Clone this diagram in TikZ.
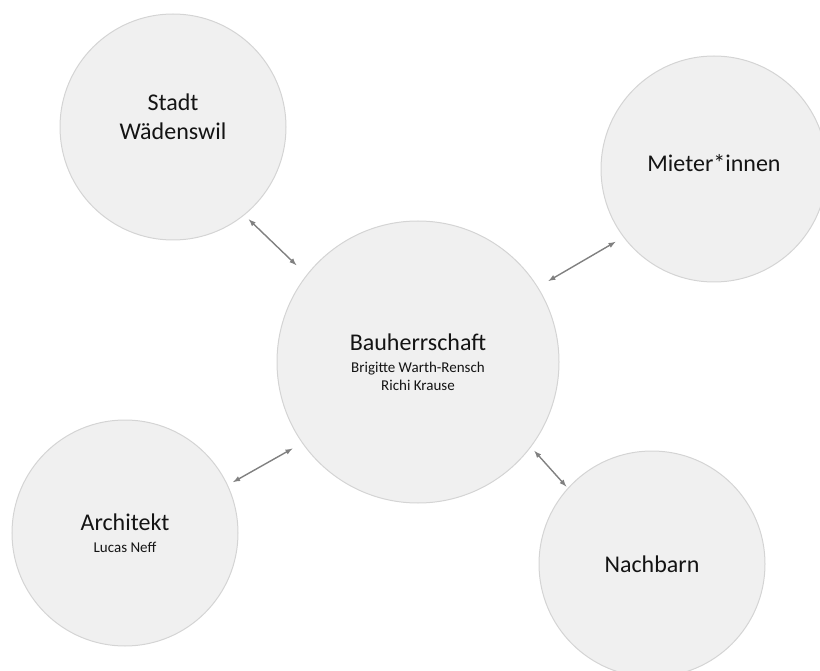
\documentclass[tikz,border=0pt]{standalone}
\usepackage{fontspec}
\setmainfont{Carlito}
\usepackage{tikz}
\usepackage{xcolor}
\usetikzlibrary{arrows}

\definecolor{discfill}{HTML}{F0F0F0}
\definecolor{discline}{HTML}{D4D4D4}
\definecolor{linkgray}{HTML}{808080}
\definecolor{labeltext}{HTML}{141414}
\newcommand{\namesize}{\fontsize{15}{18}\selectfont}

\begin{document}
\begin{tikzpicture}[x=1pt, y=-1pt,
  party/.style={draw=discline, line width=1pt, fill=discfill, circle, minimum size=226pt, inner sep=0pt, align=center, text=labeltext, font=\fontsize{24}{29}\selectfont},
  link/.style={<->, >=latex, draw=linkgray, line width=1.4pt}]
\useasboundingbox (0,0) rectangle (820,671);

% Parties
\node[party, text depth=21pt] (stadt) at (173,127) {Stadt\\W\"adenswil};
\node[party, text depth=12pt] (mieter) at (714,169) {Mieter*innen};
\node[party, minimum size=282pt] (bau) at (418,362) {Bauherrschaft\\[-7pt]\namesize Brigitte Warth-Rensch\\[-11pt]\namesize Richi Krause};
\node[party] (arch) at (125,533) {Architekt\\[-7pt]\namesize Lucas Neff};
\node[party] (nach) at (652,564) {Nachbarn};

% Links to the client
\draw[link, shorten <=6pt, shorten >=14pt] (stadt.-51.5) -- (bau.142.6);
\draw[link, shorten <=12pt, shorten >=9pt] (bau.32.4) -- (mieter.217.3);
\draw[link, shorten <=6pt, shorten >=11pt] (arch.25.9) -- (bau.215.9);
\draw[link, shorten <=5pt, shorten >=2pt] (bau.-37.5) -- (nach.138.2);

\end{tikzpicture}
\end{document}
